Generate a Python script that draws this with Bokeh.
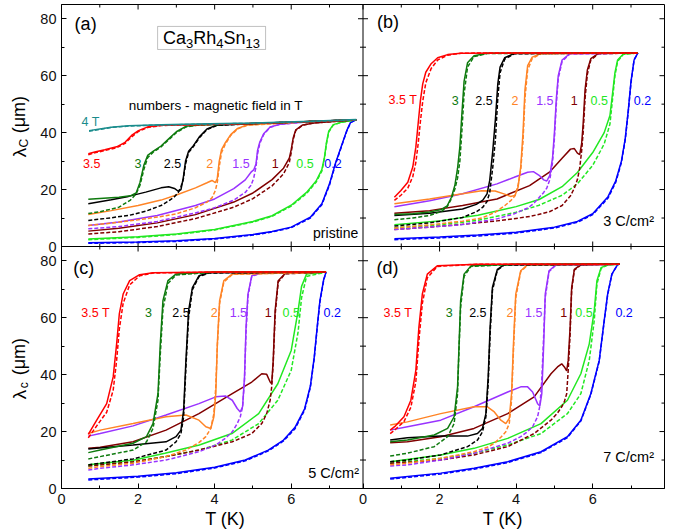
import math
from bokeh.plotting import figure
from bokeh.layouts import row, column
from bokeh.models import (Range1d, FixedTicker, CustomJSTickFormatter,
                          Label, Span, BoxAnnotation)
from bokeh.embed import file_html
from bokeh.resources import INLINE

# ---------------- data ----------------
FIELDS = ["3.5", "3", "2.5", "2", "1.5", "1", "0.5", "0.2"]
X_TICKS = [0, 2, 4, 6]
X_MINOR = [1, 3, 5, 7]
Y_TICKS = [0, 20, 40, 60, 80]
Y_MINOR = [10, 30, 50, 70]

# panel (a) pristine
a40_T = [0.72, 1.0, 1.3, 1.75, 2.6, 3.5, 5.0, 6.5, 7.7]
a40_s = [40.7, 41.3, 41.9, 42.4, 42.8, 43.0, 43.4, 44.0, 44.6]
a40_d = [40.5, 41.1, 41.8, 42.3, 42.7, 42.9, 43.3, 43.9, 44.5]
a35_T = [0.7, 0.87, 1.13, 1.44, 1.66, 1.83, 2.01, 2.27, 2.62, 3.5, 5.0, 6.5, 7.7]
a35_s = [32.6, 33.2, 34.0, 35.0, 36.6, 39.0, 40.7, 42.1, 42.6, 42.8, 43.2, 43.9, 44.5]
a35_d = [32.2, 32.9, 33.7, 34.7, 36.2, 38.5, 40.4, 41.9, 42.5, 42.8, 43.2, 43.9, 44.5]
a30_T = [0.7, 1.0, 1.5, 1.8, 1.95, 2.05, 2.15, 2.25, 2.4, 2.6, 2.8, 3.0, 3.25, 3.6, 5.0, 6.5, 7.7]
a30_s = [16.6, 16.9, 17.3, 17.8, 18.8, 22.5, 28.5, 32.0, 33.5, 35.3, 37.8, 40.3, 42.2, 42.7, 43.2, 43.9, 44.5]
a30_d = [11.6, 12.2, 13.8, 16.3, 18.5, 21.5, 27.0, 31.2, 33.2, 35.0, 37.5, 40.0, 42.0, 42.7, 43.2, 43.9, 44.5]
a25_T = [0.7, 1.3, 1.75, 2.2, 2.6, 2.8, 2.95, 3.05, 3.12, 3.18, 3.24, 3.32, 3.45, 3.6, 3.8, 4.05, 5.0, 6.5, 7.7]
a25_s = [15.0, 16.4, 17.6, 19.1, 20.6, 21.0, 20.4, 19.4, 20.0, 24.0, 30.0, 33.5, 35.5, 38.5, 41.3, 42.6, 43.2, 43.9, 44.5]
a25_d = [9.1, 10.1, 10.9, 12.4, 14.4, 16.0, 17.5, 19.0, 21.0, 23.5, 29.0, 33.0, 35.2, 38.2, 41.1, 42.5, 43.2, 43.9, 44.5]
a20_T = [0.7, 1.3, 2.0, 2.6, 3.0, 3.5, 3.8, 3.93, 4.02, 4.07, 4.12, 4.18, 4.28, 4.42, 4.6, 4.85, 6.5, 7.7]
a20_s = [11.2, 12.6, 14.4, 16.3, 18.1, 20.6, 22.4, 23.2, 22.4, 24.0, 30.0, 34.0, 36.5, 39.3, 41.5, 42.7, 43.9, 44.5]
a20_d = [7.4, 8.2, 9.4, 10.5, 11.5, 13.6, 15.6, 17.1, 19.7, 22.6, 28.0, 33.0, 36.0, 39.0, 41.3, 42.6, 43.9, 44.5]
a15_T = [0.7, 1.5, 2.5, 3.5, 4.0, 4.5, 4.8, 4.95, 5.02, 5.08, 5.12, 5.18, 5.28, 5.45, 5.7, 6.5, 7.7]
a15_s = [7.4, 8.6, 10.9, 14.4, 16.7, 20.3, 23.4, 26.1, 26.9, 29.0, 33.7, 36.7, 39.6, 42.0, 42.9, 43.9, 44.5]
a15_d = [6.2, 7.0, 8.8, 11.8, 13.6, 16.3, 19.0, 21.5, 24.0, 28.0, 32.5, 36.2, 39.3, 41.9, 42.9, 43.9, 44.5]
a10_T = [0.7, 1.5, 2.5, 3.5, 4.5, 5.0, 5.5, 5.8, 5.95, 6.0, 6.05, 6.12, 6.3, 6.6, 7.7]
a10_s = [5.4, 6.4, 8.3, 11.2, 15.6, 18.8, 23.5, 27.5, 31.0, 34.0, 38.0, 41.0, 42.7, 43.4, 44.5]
a10_d = [4.4, 5.2, 7.0, 9.8, 13.8, 16.8, 21.3, 25.5, 29.5, 33.0, 37.5, 40.8, 42.6, 43.4, 44.5]
a05_T = [0.7, 2.0, 3.0, 4.0, 5.0, 5.5, 6.0, 6.4, 6.65, 6.8, 6.87, 6.92, 6.98, 7.1, 7.3, 7.7]
a05_s = [2.6, 3.4, 4.4, 6.0, 8.8, 10.8, 14.5, 19.0, 23.0, 27.0, 31.5, 36.5, 40.5, 42.8, 43.6, 44.5]
a05_d = [2.4, 3.2, 4.2, 5.8, 8.6, 10.6, 14.2, 18.6, 22.6, 26.5, 31.0, 36.0, 40.2, 42.7, 43.6, 44.5]
a02_T = [0.7, 2.0, 3.0, 4.0, 5.0, 5.5, 6.0, 6.5, 6.8, 7.0, 7.15, 7.3, 7.45, 7.55, 7.7]
a02_s = [1.3, 1.6, 2.0, 2.8, 4.2, 5.3, 6.8, 10.3, 15.0, 22.0, 29.0, 34.9, 40.7, 43.6, 44.5]
a02_d = [1.1, 1.4, 1.8, 2.6, 4.0, 5.1, 6.6, 10.0, 14.7, 21.6, 28.6, 34.6, 40.5, 43.5, 44.5]

# panel (b) 3 C/cm2
b35_T = [0.82, 0.99, 1.17, 1.30, 1.38, 1.44, 1.50, 1.56, 1.64, 1.78, 1.95, 2.21, 2.56, 4.0, 7.18]
b35_s = [17.3, 19.7, 22.6, 27.9, 34.9, 43.1, 51.3, 57.1, 61.2, 64.2, 66.3, 67.4, 67.9, 68.0, 68.0]
b35_d = [16.2, 18.0, 20.5, 24.5, 29.5, 36.0, 44.0, 51.0, 57.5, 62.5, 65.5, 67.2, 67.9, 68.0, 68.0]
b30_T = [0.82, 1.3, 1.74, 2.05, 2.2, 2.31, 2.40, 2.47, 2.53, 2.58, 2.64, 2.73, 2.9, 3.25, 7.18]
b30_s = [11.2, 11.5, 12.1, 13.0, 14.3, 17.3, 21.5, 27.5, 35.0, 46.0, 58.0, 64.5, 67.0, 67.9, 68.0]
b30_d = [9.4, 10.0, 10.9, 12.3, 14.0, 16.8, 20.2, 24.0, 30.0, 40.0, 53.5, 63.0, 66.7, 67.8, 68.0]
b25_T = [0.82, 1.74, 2.6, 2.96, 3.13, 3.24, 3.31, 3.39, 3.46, 3.52, 3.58, 3.7, 3.95, 7.18]
b25_s = [10.9, 11.7, 13.2, 14.8, 16.3, 18.5, 23.2, 33.7, 45.0, 57.0, 63.0, 66.3, 67.8, 68.0]
b25_d = [7.2, 8.3, 10.2, 12.2, 13.8, 15.8, 19.0, 27.9, 38.0, 52.0, 61.0, 65.8, 67.7, 68.0]
b20_T = [0.82, 1.74, 2.6, 3.1, 3.45, 3.7, 3.85, 3.97, 4.05, 4.12, 4.18, 4.23, 4.3, 4.42, 4.65, 7.18]
b20_s = [15.0, 16.7, 18.5, 19.6, 19.5, 18.4, 17.6, 17.9, 20.8, 28.0, 40.0, 55.0, 63.5, 66.5, 67.8, 68.0]
b20_d = [6.5, 7.6, 8.9, 10.0, 12.0, 14.3, 16.0, 17.8, 21.5, 27.0, 37.0, 52.0, 62.0, 66.0, 67.7, 68.0]
b15_T = [0.82, 1.74, 2.6, 3.5, 3.95, 4.3, 4.45, 4.6, 4.72, 4.8, 4.88, 4.95, 5.0, 5.05, 5.1, 5.2, 5.4, 7.18]
b15_s = [14.0, 16.1, 18.5, 22.0, 24.3, 26.1, 26.3, 25.0, 23.4, 23.0, 25.0, 31.0, 40.0, 52.0, 60.0, 65.5, 67.7, 68.0]
b15_d = [6.0, 6.8, 7.7, 9.7, 11.5, 13.5, 15.0, 17.2, 19.0, 20.5, 23.5, 29.5, 38.0, 50.0, 59.0, 65.0, 67.6, 68.0]
b10_T = [0.82, 1.74, 2.6, 3.5, 4.35, 4.87, 5.2, 5.42, 5.52, 5.6, 5.66, 5.71, 5.75, 5.8, 5.86, 5.95, 6.15, 7.18]
b10_s = [11.7, 12.6, 14.4, 16.7, 21.4, 26.1, 31.0, 34.2, 34.4, 32.8, 32.3, 36.0, 43.0, 55.0, 62.0, 66.0, 67.8, 68.0]
b10_d = [6.0, 6.8, 7.8, 9.0, 10.5, 12.2, 14.4, 17.8, 20.5, 23.5, 27.5, 33.5, 40.0, 52.0, 60.5, 65.5, 67.7, 68.0]
b05_T = [0.82, 2.0, 3.0, 4.0, 4.6, 5.2, 5.6, 6.0, 6.3, 6.45, 6.52, 6.58, 6.65, 6.8, 7.18]
b05_s = [7.6, 9.0, 11.0, 14.0, 16.5, 21.0, 26.0, 33.0, 40.0, 46.0, 54.0, 61.0, 65.5, 67.6, 68.0]
b05_d = [6.6, 7.6, 9.2, 12.0, 14.5, 18.0, 22.0, 28.5, 36.0, 43.0, 52.0, 60.0, 65.0, 67.5, 68.0]
b02_T = [0.82, 2.0, 3.0, 4.0, 5.0, 5.6, 6.0, 6.4, 6.6, 6.75, 6.85, 6.93, 7.0, 7.08, 7.18]
b02_s = [2.7, 3.3, 4.0, 5.0, 6.8, 8.8, 11.5, 17.5, 23.0, 30.0, 38.0, 48.0, 58.0, 65.5, 68.0]
b02_d = [2.4, 3.0, 3.7, 4.7, 6.5, 8.5, 11.2, 17.0, 22.5, 29.5, 37.5, 47.5, 57.5, 65.5, 68.0]

# panel (c) 5 C/cm2
c35_T = [0.7, 0.92, 1.18, 1.35, 1.44, 1.51, 1.61, 1.78, 2.04, 2.39, 4.0, 6.91]
c35_s = [19.0, 24.0, 29.8, 39.2, 50.8, 61.3, 68.3, 73.0, 75.1, 75.8, 76.0, 76.0]
c35_d = [17.8, 22.0, 26.8, 34.5, 45.0, 56.0, 65.0, 71.5, 74.7, 75.7, 76.0, 76.0]
c30_T = [0.7, 1.01, 1.87, 2.22, 2.39, 2.52, 2.58, 2.65, 2.78, 2.99, 4.0, 6.91]
c30_s = [12.6, 13.5, 15.9, 18.2, 22.8, 33.3, 50.8, 66.0, 73.0, 75.3, 76.0, 76.0]
c30_d = [10.4, 11.2, 13.5, 16.4, 21.1, 31.0, 47.0, 63.0, 72.0, 75.0, 76.0, 76.0]
c25_T = [0.7, 1.87, 2.73, 2.99, 3.12, 3.19, 3.25, 3.32, 3.42, 3.59, 3.85, 6.91]
c25_s = [13.9, 15.3, 16.4, 18.2, 20.5, 27.5, 45.0, 62.5, 70.6, 74.7, 75.8, 76.0]
c25_d = [8.3, 10.4, 13.5, 16.4, 19.3, 25.2, 42.7, 60.1, 69.8, 74.4, 75.7, 76.0]
c20_T = [0.7, 1.01, 1.87, 2.73, 3.25, 3.59, 3.77, 3.9, 3.98, 4.03, 4.07, 4.13, 4.24, 4.46, 6.91]
c20_s = [19.3, 20.5, 22.8, 25.2, 25.8, 24.0, 21.7, 21.1, 25.2, 33.3, 50.8, 66.0, 73.0, 75.3, 76.0]
c20_d = [7.1, 7.7, 8.9, 11.2, 13.5, 16.1, 18.2, 21.1, 26.3, 35.7, 50.0, 65.0, 72.5, 75.2, 76.0]
c15_T = [0.7, 1.01, 1.87, 2.73, 3.59, 4.03, 4.28, 4.46, 4.59, 4.67, 4.73, 4.78, 4.82, 4.87, 4.97, 5.23, 6.91]
c15_s = [18.4, 19.3, 22.0, 25.8, 29.8, 32.2, 32.5, 31.0, 28.1, 26.9, 28.7, 39.2, 56.6, 68.3, 74.7, 75.8, 76.0]
c15_d = [6.5, 7.1, 8.3, 10.0, 12.9, 15.3, 17.6, 19.9, 22.8, 25.2, 28.7, 38.0, 55.0, 67.5, 74.5, 75.8, 76.0]
c10_T = [0.7, 1.01, 1.87, 2.73, 3.59, 4.46, 4.97, 5.23, 5.36, 5.45, 5.49, 5.53, 5.58, 5.66, 5.84, 6.91]
c10_s = [14.1, 14.5, 16.4, 20.5, 26.3, 33.3, 37.4, 40.3, 40.1, 37.4, 36.8, 45.0, 62.5, 73.0, 75.5, 76.0]
c10_d = [7.9, 8.3, 9.4, 11.2, 13.5, 16.4, 19.3, 22.8, 26.3, 31.0, 35.7, 44.0, 61.0, 72.5, 75.4, 76.0]
c05_T = [0.7, 1.9, 2.7, 3.6, 4.45, 5.15, 5.65, 6.0, 6.18, 6.27, 6.4, 6.91]
c05_s = [8.3, 10.0, 12.4, 15.3, 19.3, 26.3, 36.8, 48.5, 62.5, 71.0, 75.3, 76.0]
c05_d = [7.9, 9.4, 11.2, 13.5, 17.0, 22.8, 31.0, 41.5, 55.0, 67.0, 74.5, 76.0]
c02_T = [0.7, 2.0, 3.0, 4.0, 4.8, 5.4, 5.8, 6.1, 6.35, 6.5, 6.6, 6.68, 6.75, 6.85, 6.91]
c02_s = [3.3, 4.3, 5.5, 7.5, 10.0, 13.5, 17.0, 21.5, 28.0, 36.0, 46.0, 57.0, 66.0, 73.5, 76.0]
c02_d = [3.0, 4.0, 5.2, 7.2, 9.7, 13.2, 16.7, 21.0, 27.5, 35.5, 45.5, 56.5, 65.5, 73.3, 76.0]

# panel (d) 7 C/cm2
d35_T = [0.71, 0.85, 1.07, 1.25, 1.38, 1.46, 1.55, 1.68, 1.94, 3.0, 6.7]
d35_s = [20.5, 22.0, 25.2, 31.0, 41.5, 56.6, 68.3, 75.3, 78.2, 78.8, 78.8]
d35_d = [19.3, 20.8, 23.5, 28.5, 37.5, 52.0, 65.0, 74.0, 78.0, 78.8, 78.8]
d30_T = [0.71, 1.16, 1.86, 2.21, 2.38, 2.47, 2.51, 2.55, 2.64, 2.82, 4.0, 6.7]
d30_s = [16.4, 17.0, 18.8, 21.1, 25.2, 35.7, 50.8, 66.0, 75.3, 78.2, 78.8, 78.8]
d30_d = [11.4, 12.4, 14.7, 18.2, 22.8, 33.3, 49.7, 63.6, 74.5, 78.0, 78.8, 78.8]
d25_T = [0.71, 1.16, 2.03, 2.73, 2.99, 3.12, 3.21, 3.27, 3.32, 3.38, 3.51, 3.69, 6.7]
d25_s = [17.0, 17.8, 18.4, 18.4, 19.3, 21.1, 26.3, 39.2, 56.6, 70.6, 77.0, 78.6, 78.8]
d25_d = [9.4, 10.0, 11.8, 14.7, 17.0, 19.9, 25.2, 36.8, 54.3, 69.5, 76.7, 78.5, 78.8]
d20_T = [0.71, 1.16, 2.03, 2.9, 3.25, 3.43, 3.6, 3.73, 3.82, 3.88, 3.93, 3.99, 4.12, 4.3, 6.7]
d20_s = [22.3, 23.4, 26.3, 28.7, 28.7, 26.9, 24.0, 22.8, 24.6, 33.3, 50.8, 68.3, 76.5, 78.6, 78.8]
d20_d = [8.3, 8.9, 10.6, 12.9, 14.5, 15.9, 18.0, 19.9, 22.8, 31.0, 48.5, 67.0, 76.2, 78.5, 78.8]
d15_T = [0.71, 1.16, 2.03, 2.9, 3.78, 4.12, 4.3, 4.43, 4.56, 4.62, 4.67, 4.72, 4.76, 4.86, 5.04, 6.7]
d15_s = [20.5, 21.7, 24.0, 28.7, 33.9, 35.7, 35.7, 33.9, 29.8, 29.0, 33.3, 50.8, 68.3, 76.5, 78.6, 78.8]
d15_d = [7.9, 8.3, 10.0, 12.4, 15.9, 18.2, 20.0, 21.7, 25.2, 29.0, 38.0, 54.0, 67.0, 76.2, 78.5, 78.8]
d10_T = [0.71, 1.16, 2.03, 2.9, 3.78, 4.47, 4.91, 5.08, 5.19, 5.26, 5.32, 5.36, 5.41, 5.45, 5.52, 5.69, 6.7]
d10_s = [16.1, 16.4, 18.2, 21.1, 26.3, 32.2, 40.3, 42.7, 43.8, 42.7, 41.3, 45.0, 56.6, 70.6, 77.0, 78.6, 78.8]
d10_d = [8.9, 9.2, 10.0, 11.8, 14.7, 19.3, 24.0, 26.5, 28.7, 30.5, 33.3, 41.5, 54.3, 69.5, 76.7, 78.5, 78.8]
d05_T = [0.71, 2.03, 2.9, 3.78, 4.65, 5.34, 5.69, 5.91, 6.04, 6.11, 6.22, 6.39, 6.7]
d05_s = [9.4, 11.8, 14.1, 17.6, 22.8, 31.0, 40.3, 50.8, 62.5, 73.0, 77.6, 78.6, 78.8]
d05_d = [8.9, 10.6, 12.4, 15.3, 19.3, 26.3, 33.3, 45.0, 59.0, 71.8, 77.3, 78.5, 78.8]
d02_T = [0.71, 2.03, 2.9, 3.78, 4.65, 5.34, 5.69, 5.95, 6.17, 6.3, 6.39, 6.5, 6.65, 6.7]
d02_s = [3.6, 5.4, 7.1, 9.4, 12.9, 18.2, 24.0, 33.3, 45.0, 59.0, 68.3, 75.3, 78.6, 78.8]
d02_d = [3.3, 5.1, 6.8, 9.1, 12.6, 17.9, 23.7, 33.0, 44.7, 58.7, 68.0, 75.2, 78.6, 78.8]

# ---------------- styling / layout ----------------
FONT = "Liberation Sans"
COLORS = ["#ff0000", "#0e7a0e", "#000000", "#ff8426", "#9933ff", "#800000", "#22e822", "#0000ff"]
TEAL = "#1a8c8c"
XW = 7.875   # width of one panel in K
YH = 85.0    # height of one panel in um

W, H = 689, 529
LS = 34                  # left strip (y titles)
BS = 19                  # bottom strip (x titles)
FL, FR, FT, FB = 61, 664, 4, 488   # frame edges in page pixels
PPX = (FR - FL) / (2 * XW)
PPY = (FB - FT) / (2 * YH)

p = figure(width=W - LS, height=H - BS, x_range=Range1d(0, 2 * XW), y_range=Range1d(0, 2 * YH),
           min_border_left=FL - LS, min_border_right=W - FR, min_border_top=FT,
           min_border_bottom=H - BS - FB,
           output_backend="svg", toolbar_location=None, tools="")
p.extra_x_ranges = {"xl": Range1d(0, 2 * XW), "xr": Range1d(-XW, XW)}
p.extra_y_ranges = {"yb": Range1d(0, 2 * YH), "yt": Range1d(-YH, YH)}
p.xgrid.visible = False
p.ygrid.visible = False
p.outline_line_color = "black"
p.outline_line_width = 1
p.background_fill_color = "white"
p.border_fill_color = "white"

xt_all = X_TICKS + [XW + t for t in X_TICKS]
xm_all = X_MINOR + [XW + t for t in X_MINOR]
yt_all = Y_TICKS + [YH + t for t in Y_TICKS]
ym_all = Y_MINOR + [YH + t for t in Y_MINOR]

fmt_x = CustomJSTickFormatter(args=dict(w=XW), code="""
const v = tick >= w - 1e-6 ? tick - w : tick;
return String(Math.round(v * 100) / 100);""")
fmt_y = CustomJSTickFormatter(args=dict(w=YH), code="""
const v = tick >= w - 1e-6 ? tick - w : tick;
return String(Math.round(v * 100) / 100);""")


def style_axis(ax, ticks, minor, fmt):
    ax.ticker = FixedTicker(ticks=ticks, minor_ticks=minor)
    ax.major_tick_in = 5
    ax.major_tick_out = 0
    ax.minor_tick_in = 3
    ax.minor_tick_out = 0
    ax.axis_line_color = "black"
    ax.major_tick_line_color = "black"
    ax.minor_tick_line_color = "black"
    ax.formatter = fmt
    ax.major_label_text_font = FONT
    ax.major_label_text_font_size = "14.5px"
    ax.major_label_text_color = "#111111"
    ax.major_label_standoff = 5


style_axis(p.below[0], xt_all, xm_all, fmt_x)
style_axis(p.left[0], yt_all, ym_all, fmt_y)

# panel dividers
p.add_layout(Span(location=XW, dimension="height", line_color="black", line_width=1))
p.add_layout(Span(location=YH, dimension="width", line_color="black", line_width=1))


def tickmarks(xs, ys, size, vertical):
    p.scatter(x=xs, y=ys, marker="dash", size=size, angle=(math.pi / 2 if vertical else 0.0),
              line_color="black", line_width=1)


# inward ticks on top and right edges (half of each mark is outside the frame)
tickmarks(xt_all, [2 * YH] * len(xt_all), 10, True)
tickmarks(xm_all, [2 * YH] * len(xm_all), 6, True)
tickmarks([2 * XW] * len(yt_all), yt_all, 10, False)
tickmarks([2 * XW] * len(ym_all), ym_all, 6, False)
# ticks on both sides of the inner dividers
vy = [v for v in yt_all if v not in (0, YH)]
tickmarks([XW] * len(vy), vy, 10, False)
tickmarks([XW] * len(ym_all), ym_all, 6, False)
hx = [v for v in xt_all if v not in (0, XW)]
tickmarks(hx, [YH] * len(hx), 10, True)
tickmarks(xm_all, [YH] * len(xm_all), 6, True)


def curve(T, s, d, color, xr, yr):
    p.line(T, s, line_color=color, line_width=1.5, x_range_name=xr, y_range_name=yr)
    p.line(T, d, line_color=color, line_width=1.5, line_dash="4 2",
           x_range_name=xr, y_range_name=yr)


def lab(fig, text, x, y, xr="default", yr="default", color="black", size="12px",
        align="center", baseline="middle", x_offset=0, angle=0.0):
    fig.add_layout(Label(x=x, y=y, x_range_name=xr, y_range_name=yr, text=text,
                         text_color=color, text_font=FONT, text_font_size=size,
                         text_align=align, text_baseline=baseline, x_offset=x_offset,
                         angle=angle))


panels = [
    ("xl", "yt", [(a35_T, a35_s, a35_d), (a30_T, a30_s, a30_d), (a25_T, a25_s, a25_d),
                  (a20_T, a20_s, a20_d), (a15_T, a15_s, a15_d), (a10_T, a10_s, a10_d),
                  (a05_T, a05_s, a05_d), (a02_T, a02_s, a02_d)]),
    ("xr", "yt", [(b35_T, b35_s, b35_d), (b30_T, b30_s, b30_d), (b25_T, b25_s, b25_d),
                  (b20_T, b20_s, b20_d), (b15_T, b15_s, b15_d), (b10_T, b10_s, b10_d),
                  (b05_T, b05_s, b05_d), (b02_T, b02_s, b02_d)]),
    ("xl", "yb", [(c35_T, c35_s, c35_d), (c30_T, c30_s, c30_d), (c25_T, c25_s, c25_d),
                  (c20_T, c20_s, c20_d), (c15_T, c15_s, c15_d), (c10_T, c10_s, c10_d),
                  (c05_T, c05_s, c05_d), (c02_T, c02_s, c02_d)]),
    ("xr", "yb", [(d35_T, d35_s, d35_d), (d30_T, d30_s, d30_d), (d25_T, d25_s, d25_d),
                  (d20_T, d20_s, d20_d), (d15_T, d15_s, d15_d), (d10_T, d10_s, d10_d),
                  (d05_T, d05_s, d05_d), (d02_T, d02_s, d02_d)]),
]
for xr, yr, curves in panels:
    for i in reversed(range(len(curves))):
        T, s, d = curves[i]
        curve(T, s, d, COLORS[i], xr, yr)
curve(a40_T, a40_s, a40_d, TEAL, "xl", "yt")

# field labels in each panel
LAB_Y = {"a": 29.2, "b": 51.3, "c": 61.8, "d": 61.8}
LAB_X = {"a": [0.79, 2.0, 2.9, 3.87, 4.69, 5.58, 6.36, 7.09],
         "b": [1.04, 2.41, 3.16, 3.97, 4.75, 5.52, 6.17, 7.3],
         "c": [0.89, 2.27, 3.12, 3.99, 4.62, 5.4, 6.0, 7.07],
         "d": [0.91, 2.25, 3.0, 3.84, 4.46, 5.24, 5.77, 6.82]}
RNG = {"a": ("xl", "yt"), "b": ("xr", "yt"), "c": ("xl", "yb"), "d": ("xr", "yb")}
for key in "abcd":
    xr, yr = RNG[key]
    for i, f in enumerate(FIELDS):
        txt = f if (key == "a" or i > 0) else f + " T"
        lab(p, txt, LAB_X[key][i], LAB_Y[key], xr, yr, color=COLORS[i], size="12.5px")
lab(p, "4 T", 0.76, 43.9, "xl", "yt", color=TEAL, size="12.5px")

# panel tags and notes
lab(p, "(a)", 0.63, 78.3, "xl", "yt", size="18px")
lab(p, "(b)", 0.65, 79.0, "xr", "yt", size="18px")
lab(p, "(c)", 0.58, 77.6, "xl", "yb", size="18px")
lab(p, "(d)", 0.64, 77.6, "xr", "yb", size="18px")
lab(p, "numbers - magnetic field in T", 4.03, 49.5, "xl", "yt", size="13.5px")
lab(p, "pristine", 7.75, 4.9, "xl", "yt", size="14px", align="right")
lab(p, "3 C/cm\u00b2", 7.6, 9.1, "xr", "yt", size="14.5px", align="right")
lab(p, "5 C/cm\u00b2", 7.77, 5.6, "xl", "yb", size="14.5px", align="right")
lab(p, "7 C/cm\u00b2", 7.6, 10.9, "xr", "yb", size="14.5px", align="right")

# compound name in a box
p.add_layout(BoxAnnotation(left=2.51, right=5.33, bottom=69.2, top=77.3,
                           x_range_name="xl", y_range_name="yt",
                           fill_color="white", fill_alpha=1.0,
                           line_color="#333333", line_width=1, level="annotation"))
parts = [("Ca", 18, 0), ("3", 13, 1), ("Rh", 18, 0), ("4", 13, 1), ("Sn", 18, 0), ("13", 13, 1)]
ADV = {"C": 0.722, "a": 0.556, "R": 0.722, "h": 0.556, "S": 0.667, "n": 0.556,
       "1": 0.556, "3": 0.556, "4": 0.556}
widths = [sum(ADV[c] for c in t) * fs for t, fs, _ in parts]
off = -sum(widths) / 2
for (t, fs, sub), w in zip(parts, widths):
    lab(p, t, 3.92, 71.3 if sub else 73.2, "xl", "yt", size=f"{fs}px", align="left",
        baseline="alphabetic", x_offset=off)
    off += w


# ---------------- strips carrying the axis titles ----------------
def strip(width, height, xr, yr):
    s = figure(width=width, height=height, x_range=xr, y_range=yr,
               min_border_left=0, min_border_right=0, min_border_top=0, min_border_bottom=0,
               x_axis_location=None, y_axis_location=None, output_backend="svg",
               toolbar_location=None, tools="")
    s.xgrid.visible = False
    s.ygrid.visible = False
    s.outline_line_color = None
    s.background_fill_color = "white"
    s.border_fill_color = "white"
    return s


# left strip: x in page pixels, y in the same units as the main plot
left = strip(LS, H, Range1d(0, LS), Range1d(-(H - FB) / PPY, 2 * YH + FT / PPY))
for base, sub in ((YH, "C"), (0.0, "c")):
    lab(left, "\u03bb", 18.5, base + 33.0, size="19px", angle=math.pi / 2)
    lab(left, sub, 23.0, base + 36.3, size="12px", angle=math.pi / 2)
    lab(left, "(\u03bcm)", 18.5, base + 46.3, size="18px", angle=math.pi / 2)

# bottom strip: x in the same units as the main plot
bottom = strip(W - LS, BS, Range1d(-(FL - LS) / PPX, 2 * XW + (W - FR) / PPX), Range1d(0, BS))
for cx in (XW / 2, XW * 1.5):
    lab(bottom, "T (K)", cx, BS - (518 - (H - BS)), size="18px")

layout = row(left, column(p, bottom))
open("out.html", "w").write(file_html(layout, INLINE))
